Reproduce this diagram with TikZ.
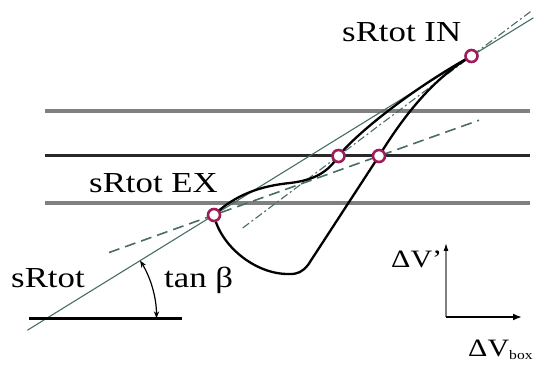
\documentclass[tikz,border=0pt]{standalone}
\usepackage{fontspec}
\setmainfont{Liberation Serif}
\usetikzlibrary{calc,arrows.meta}
\definecolor{loopPink}{RGB}{158,28,88}
\definecolor{slopeTeal}{RGB}{72,108,102}
\definecolor{bandGray}{RGB}{128,128,128}
\definecolor{bandDark}{RGB}{40,40,40}

\begin{document}
\begin{tikzpicture}[x=1pt,y=-1pt,
  lbl/.style={font=\fontsize{29}{32}\selectfont, xscale=1.2, inner sep=0pt, anchor=base west},
  marker/.style={circle, draw=loopPink, line width=2.6pt, fill=white, minimum size=12pt, inner sep=0pt},
  band/.style={bandGray, line width=4.2pt},
  slope/.style={slopeTeal, line width=1.1pt},
  tangent/.style={slopeTeal, line width=1.6pt, dash pattern=on 11pt off 6pt},
  chord/.style={slopeTeal, line width=1.1pt, dash pattern=on 8pt off 3pt on 2pt off 3pt},
  cycle/.style={black, line width=2.3pt}]
\useasboundingbox (0,0) rectangle (538,371);

% operating points
\coordinate (in) at (471.5,56);
\coordinate (ex) at (214,215);
\coordinate (pa) at (338.5,156);
\coordinate (pb) at (379,156);

% bands
\draw[band] (45,111) -- (530,111);
\draw[band, bandDark, line width=3pt] (45,156) -- (530,156);
\draw[band] (45,203) -- (530,203);

% straight lines
\draw[slope] ($(in)!1.725!(ex)$) -- ($(ex)!1.24!(in)$);
\draw[tangent] ($(ex)!-0.636!(pb)$) -- ($(ex)!1.606!(pb)$);
\draw[chord] ($(pa)!-0.72!(in)$) -- ($(pa)!1.46!(in)$);

% cycle
\draw[cycle] (ex) .. controls (220,245) and (255,275) .. (290,274)
  .. controls (298,274) and (302,272) .. (308,265) -- (pb)
  .. controls (400,122) and (430,80) .. (in);
\draw[cycle] (ex) .. controls (235,195) and (260,186) .. (290,183)
  .. controls (315,180) and (328,172) .. (pa)
  .. controls (355,135) and (410,90) .. (in);

\node[marker] (inmark) at (in) {};
\node[marker] (exmark) at (ex) {};
\node[marker] (pamark) at (pa) {};
\node[marker] (pbmark) at (pb) {};

% angle
\coordinate (vtx) at (46.5,318.3);
\coordinate (beta) at ($(vtx)+(-31.7:110)$);
\draw[black, line width=3pt] (29,318.3) -- (182,318.3);
\draw[black, line width=1.2pt, {Stealth[length=7pt]}-{Stealth[length=7pt]}] (beta) arc[start angle=-31.7, end angle=0, radius=110];

% axes
\coordinate (o) at (446,317);
\coordinate (ytip) at (446,243);
\coordinate (xtip) at (522,317);
\draw[gray, line width=1.2pt, -{Latex[length=8pt,width=5pt,color=black]}] (o) -- (ytip);
\draw[black, line width=2.6pt, -{Latex[length=9pt,width=7pt]}] (o) -- (xtip);

% labels
\node[lbl] (inlbl) at (342,42) {sRtot IN};
\node[lbl] (exlbl) at (89,193) {sRtot EX};
\node[lbl] (srlbl) at (11,288) {sRtot};
\node[lbl] (tanlbl) at (164,288) {tan β};
\node[lbl, font=\fontsize{25}{28}\selectfont] (dvy) at (391,268) {ΔV'};
\node[lbl, font=\fontsize{25}{28}\selectfont] (dvx) at (468,356) {ΔV\textsubscript{\fontsize{13}{13}\selectfont box}};
\end{tikzpicture}
\end{document}
